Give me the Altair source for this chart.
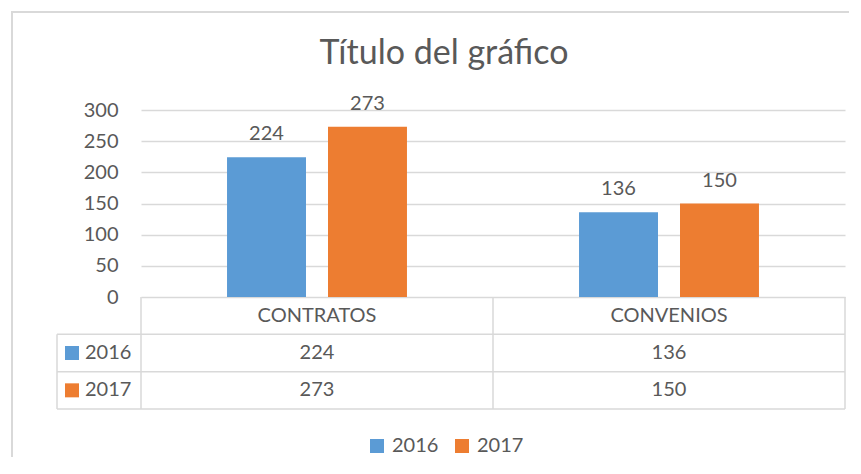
import altair as alt
import pandas as pd

# ---- data ----
categories = ["CONTRATOS", "CONVENIOS"]
years = ["2016", "2017"]
values_2016 = [224, 136]
values_2017 = [273, 150]
y_ticks = [0, 50, 100, 150, 200, 250, 300]
title_text = "Título del gráfico"
colors = ["#5B9BD5", "#ED7D31"]

rows = []
for yr, vals in zip(years, [values_2016, values_2017]):
    for c, v in zip(categories, vals):
        rows.append({"category": c, "year": yr, "value": v})
df = pd.DataFrame(rows)
cat_df = pd.DataFrame({"category": categories, "row": ["header"] * len(categories)})
year_df = pd.DataFrame({"year": years})
one = pd.DataFrame({"k": [0]})

# ---- layout / style ----
W, H = 704, 299
ZERO_Y = 187
FONT = "Lato"
GRAY = "#595959"
LINE = "#d9d9d9"
FS = 20

xscale = alt.Scale(type="band", domain=categories, paddingInner=0, paddingOuter=0)
yscale = alt.Scale(domain=[0, 300], range=[ZERO_Y, 0], nice=False, zero=True)
rowscale = alt.Scale(type="band", domain=["header"] + years, range=[ZERO_Y, H],
                     paddingInner=0, paddingOuter=0)
offscale = alt.Scale(domain=years, paddingInner=0.218, paddingOuter=0.852)
colorscale = alt.Scale(domain=years, range=colors)

X = alt.X("category:N", scale=xscale, axis=None)

frame_top = alt.Chart(one).mark_rule(color=LINE, strokeWidth=2).encode(
    x=alt.value(-130), x2=alt.value(760), y=alt.value(-98)
)
frame_left = alt.Chart(one).mark_rule(color=LINE, strokeWidth=2).encode(
    x=alt.value(-129), y=alt.value(-99), y2=alt.value(420)
)

title = alt.Chart(one).mark_text(
    text=title_text, font=FONT, fontSize=34, color=GRAY, align="center", baseline="alphabetic"
).encode(x=alt.value(303), y=alt.value(-46))

bars = alt.Chart(df).mark_bar().encode(
    x=X,
    xOffset=alt.XOffset("year:N", scale=offscale),
    y=alt.Y("value:Q", scale=yscale, axis=alt.Axis(
        values=y_ticks, grid=True, gridColor=LINE, gridWidth=1.5, domain=False,
        ticks=False, labelPadding=23, labelFont=FONT, labelFontSize=FS,
        labelColor=GRAY, title=None)),
    color=alt.Color("year:N", scale=colorscale, legend=alt.Legend(
        orient="none", legendX=226, legendY=326, direction="horizontal", title=None,
        symbolType="square", symbolSize=196, symbolStrokeWidth=0,
        labelFont=FONT, labelFontSize=FS, labelColor=GRAY, labelOffset=5,
        columnPadding=13, padding=0)),
)

bar_labels = alt.Chart(df).mark_text(
    dy=-17, baseline="alphabetic", font=FONT, fontSize=FS, color=GRAY
).encode(
    x=X,
    xOffset=alt.XOffset("year:N", scale=offscale),
    y=alt.Y("value:Q", scale=yscale, axis=None),
    text="value:Q",
)

header = alt.Chart(cat_df).mark_text(baseline="middle", font=FONT, fontSize=FS, color=GRAY).encode(
    x=X, y=alt.Y("row:N", scale=rowscale, axis=None), text="category:N"
)

cells = alt.Chart(df).mark_text(baseline="middle", font=FONT, fontSize=FS, color=GRAY).encode(
    x=X, y=alt.Y("year:N", scale=rowscale, axis=None), text="value:Q"
)

left_labels = alt.Chart(year_df).mark_text(
    align="left", baseline="middle", font=FONT, fontSize=FS, color=GRAY
).encode(x=alt.value(-56), y=alt.Y("year:N", scale=rowscale, axis=None), text="year:N")

left_squares = alt.Chart(year_df).mark_square(size=196, opacity=1).encode(
    x=alt.value(-69), y=alt.Y("year:N", scale=rowscale, axis=None),
    color=alt.Color("year:N", scale=colorscale, legend=None),
)

hlines = alt.Chart(year_df).mark_rule(color=LINE, strokeWidth=1.5).encode(
    y=alt.Y("year:N", scale=rowscale, axis=None, bandPosition=0),
    x=alt.value(-84), x2=alt.value(W),
)
hline_bottom = alt.Chart(pd.DataFrame({"year": [years[-1]]})).mark_rule(color=LINE, strokeWidth=1.5).encode(
    y=alt.Y("year:N", scale=rowscale, axis=None, bandPosition=1),
    x=alt.value(-84), x2=alt.value(W),
)
vlines = alt.Chart(cat_df).mark_rule(color=LINE, strokeWidth=1.5).encode(
    x=alt.X("category:N", scale=xscale, axis=None, bandPosition=0),
    y=alt.value(ZERO_Y), y2=alt.value(H),
)
vline_right = alt.Chart(pd.DataFrame({"category": [categories[-1]]})).mark_rule(color=LINE, strokeWidth=1.5).encode(
    x=alt.X("category:N", scale=xscale, axis=None, bandPosition=1),
    y=alt.value(ZERO_Y), y2=alt.value(H),
)
vline_left = alt.Chart(one).mark_rule(color=LINE, strokeWidth=1.5).encode(
    x=alt.value(-84), y=alt.value(224.3), y2=alt.value(H)
)

chart = alt.layer(
    frame_top, frame_left, title, bars, bar_labels, hlines, hline_bottom, vlines, vline_right,
    vline_left, header, cells, left_squares, left_labels,
).resolve_scale(y="independent").properties(
    width=W, height=H,
    autosize=alt.AutoSizeParams(type="none"),
    padding={"left": 133, "top": 102, "right": 4, "bottom": 48},
    background="white",
).configure_view(strokeWidth=0)

chart.save("out.html", embed_options={"renderer": "svg", "actions": False})
